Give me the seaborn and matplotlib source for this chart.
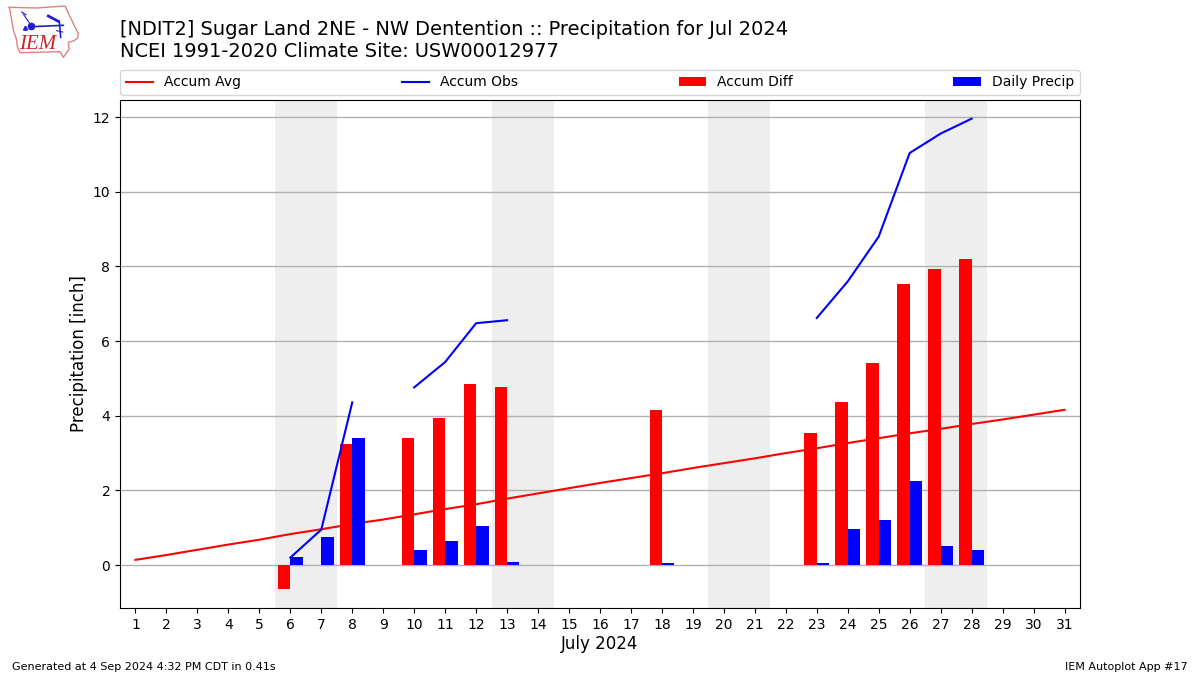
import numpy as np
import pandas as pd
import matplotlib
matplotlib.use('Agg')
import matplotlib.pyplot as plt
import seaborn as sns

days = list(range(1, 32))
accum_avg = [0.14, 0.27, 0.41, 0.55, 0.68, 0.83, 0.96, 1.10, 1.22, 1.36, 1.50,
             1.63, 1.78, 1.92, 2.06, 2.20, 2.33, 2.46, 2.60, 2.73, 2.86, 3.00,
             3.13, 3.27, 3.40, 3.53, 3.65, 3.78, 3.90, 4.03, 4.16]
nan = np.nan
accum_obs = [nan, nan, nan, nan, nan, 0.20, 0.95, 4.36, nan, 4.76, 5.44,
             6.48, 6.56, nan, nan, nan, nan, nan, nan, nan, nan, nan,
             6.62, 7.60, 8.80, 11.04, 11.56, 11.96, nan, nan, nan]
accum_diff = [nan, nan, nan, nan, nan, -0.65, nan, 3.25, nan, 3.40, 3.93,
              4.85, 4.76, nan, nan, nan, nan, 4.15, nan, nan, nan, nan,
              3.54, 4.36, 5.41, 7.52, 7.93, 8.20, nan, nan, nan]
daily_precip = [nan, nan, nan, nan, nan, 0.21, 0.75, 3.40, nan, 0.40, 0.65,
                1.04, 0.08, nan, nan, nan, nan, 0.05, nan, nan, nan, nan,
                0.05, 0.96, 1.20, 2.24, 0.50, 0.40, nan, nan, nan]
weekends = [(5.5, 7.5), (12.5, 14.5), (19.5, 21.5), (26.5, 28.5)]

avg_df = pd.DataFrame({'day': days, 'precip': accum_avg})

# Obs line has gaps, so give each run its own segment id
obs_df = pd.DataFrame({'day': days, 'precip': accum_obs})
obs_df['segment'] = obs_df['precip'].isna().cumsum()
obs_df = obs_df.dropna()

bars = pd.concat([
    pd.DataFrame({'day': days, 'precip': accum_diff, 'series': 'Accum Diff'}),
    pd.DataFrame({'day': days, 'precip': daily_precip, 'series': 'Daily Precip'}),
]).dropna()

fig = plt.figure(figsize=(12, 6.75), dpi=100)
ax = fig.add_axes([0.1, 67 / 675, 0.8, 508 / 675])

for start, end in weekends:
    ax.axvspan(start, end, color='#eeeeee', lw=0, zorder=0)

sns.lineplot(data=avg_df, x='day', y='precip', color='red', lw=1.5,
             label='Accum Avg', ax=ax, zorder=2, errorbar=None)
sns.lineplot(data=obs_df, x='day', y='precip', units='segment', estimator=None,
             color='blue', lw=1.5, label='Accum Obs', ax=ax, zorder=4)
sns.barplot(data=bars, x='day', y='precip', hue='series', native_scale=True,
            hue_order=['Accum Diff', 'Daily Precip'],
            palette={'Accum Diff': 'red', 'Daily Precip': 'blue'},
            width=0.8, gap=0, errorbar=None, saturation=1, ax=ax, zorder=3)

ax.set_xticks(days)
ax.set_xticklabels([str(d) for d in days])
ax.set_xlim(0.5, 31.5)
ax.set_ylim(-1.15, 12.46)
ax.set_yticks([0, 2, 4, 6, 8, 10, 12])
ax.yaxis.grid(True, color='#b0b0b0', lw=1, zorder=1)
ax.xaxis.grid(False)
ax.set_axisbelow(True)
ax.set_xlabel('July 2024', fontsize=12, labelpad=2.5)
ax.set_ylabel('Precipitation [inch]', fontsize=12, labelpad=3)

handles, labels = ax.get_legend_handles_labels()
unique = dict(zip(labels, handles))
order = ['Accum Avg', 'Accum Obs', 'Accum Diff', 'Daily Precip']
ax.legend([unique[k] for k in order], order, ncol=4, mode='expand',
          loc='lower left', bbox_to_anchor=(0, 1.01, 1, 0.05), borderaxespad=0,
          fontsize=10)

fig.text(0.1, 1 - 61 / 675,
         '[NDIT2] Sugar Land 2NE - NW Dentention :: Precipitation for Jul 2024\n'
         'NCEI 1991-2020 Climate Site: USW00012977',
         fontsize=13.99, ha='left', va='bottom')
fig.text(12 / 1200, 1 - 670 / 675, 'Generated at 4 Sep 2024 4:32 PM CDT in 0.41s', fontsize=8, ha='left')
fig.text(1188 / 1200, 1 - 670 / 675, 'IEM Autoplot App #17', fontsize=8, ha='right')

# Rough copy of the IEM logo
logo = fig.add_axes([0, 1 - 60 / 675, 80 / 1200, 60 / 675])
logo.set_xlim(0, 240)
logo.set_ylim(180, 0)
logo.axis('off')
outline_x = [28, 110, 195, 205, 222, 235, 232, 222, 205, 207, 190, 180, 60, 52, 50, 40, 35, 28]
outline_y = [22, 24, 18, 40, 75, 100, 115, 122, 127, 148, 172, 155, 158, 140, 120, 90, 60, 22]
logo.plot(outline_x, outline_y, color='#e08080', lw=1)
logo.plot([95, 190], [80, 76], color='#2020d0', lw=1.2)
logo.plot([145, 175], [48, 64], color='#2020d0', lw=2)
logo.plot([178, 182], [65, 112], color='#2020d0', lw=1.2)
logo.plot([70, 92], [42, 75], color='#2020d0', lw=0.8)
logo.plot([65, 78], [36, 44], color='#2020d0', lw=0.8)
logo.plot([170, 188], [92, 96], color='#2020d0', lw=0.8)
logo.plot([93], [79], 'o', color='#2020d0', ms=4.5)
logo.plot([72, 78, 75], [87, 87, 82], 's', color='#2020d0', ms=1)
logo.text(113, 134, 'IEM', color='#d02030', fontsize=15, family='Liberation Serif',
          style='italic', ha='center', va='center')

fig.savefig('out.png', dpi=100)
